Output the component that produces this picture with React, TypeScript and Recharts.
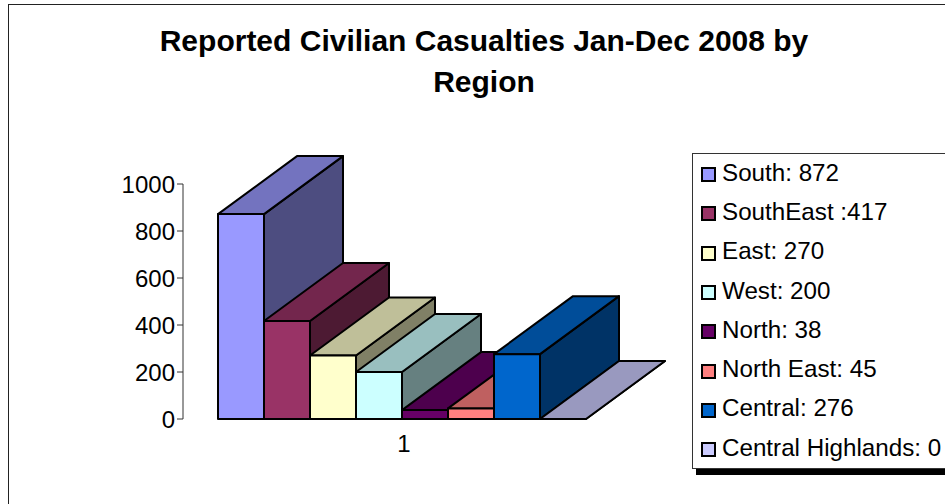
import { Bar, BarChart, Legend, XAxis, YAxis } from "recharts";

const regions = ["South", "SouthEast", "East", "West", "North", "North East", "Central", "Central Highlands"];
const casualties = [872, 417, 270, 200, 38, 45, 276, 0];
const legendLabels = [
  "South: 872",
  "SouthEast :417",
  "East: 270",
  "West: 200",
  "North: 38",
  "North East: 45",
  "Central: 276",
  "Central Highlands: 0"
];
const yTicks = [0, 200, 400, 600, 800, 1000];
const categories = ["1"];

const colors = ["#9999ff", "#993366", "#ffffcc", "#ccffff", "#660066", "#ff8080", "#0066cc", "#ccccff"];

const FONT = "'Liberation Sans', Arial, sans-serif";
const DEPTH_X = 79;
const DEPTH_Y = 58;

const row: Record<string, string | number> = { category: categories[0] };
regions.forEach((r, i) => {
  row[r] = casualties[i];
});
const data = [row];

// darken a hex colour, excel style shading for the 3d faces
function shade(hex: string, k: number) {
  const n = parseInt(hex.slice(1), 16);
  const r = Math.round(((n >> 16) & 255) * k);
  const g = Math.round(((n >> 8) & 255) * k);
  const b = Math.round((n & 255) * k);
  return `rgb(${r},${g},${b})`;
}

function Box3D(props: any) {
  const { x, y, width, height, fill } = props;
  const x2 = x + width;
  const y2 = y + height;
  const top = `${x},${y} ${x + DEPTH_X},${y - DEPTH_Y} ${x2 + DEPTH_X},${y - DEPTH_Y} ${x2},${y}`;
  const side = `${x2},${y} ${x2 + DEPTH_X},${y - DEPTH_Y} ${x2 + DEPTH_X},${y2 - DEPTH_Y} ${x2},${y2}`;
  return (
    <g stroke="#000" strokeWidth={2} strokeLinejoin="round">
      <polygon points={side} fill={shade(fill, 0.5)} />
      <polygon points={top} fill={shade(fill, 0.75)} />
      <rect x={x} y={y} width={width} height={height} fill={fill} />
    </g>
  );
}

function LegendBox() {
  return (
    <div
      style={{
        width: 255,
        height: 316,
        boxSizing: "border-box",
        background: "#fff",
        border: "1px solid #333",
        boxShadow: "4px 6px 0 #000",
        fontFamily: FONT,
        fontSize: 24.2,
        color: "#000",
        position: "relative"
      }}
    >
      {legendLabels.map((label, i) => (
        <div
          key={label}
          style={{ position: "absolute", left: 8, top: -1 + 39.3 * i, height: 39.3, display: "flex", alignItems: "center", whiteSpace: "nowrap" }}
        >
          <span
            style={{
              display: "inline-block",
              boxSizing: "border-box",
              width: 15,
              height: 15,
              marginRight: 6,
              marginTop: 4,
              background: colors[i],
              border: "2px solid #000"
            }}
          />
          {label}
        </div>
      ))}
    </div>
  );
}

export default function App() {
  return (
    <div style={{ position: "absolute", left: 0, top: 0, width: 945, height: 504, overflow: "hidden", background: "#fff" }}>
      <div
        style={{
          position: "absolute",
          left: 8,
          top: 4,
          width: 945,
          height: 510,
          border: "1.5px solid #222",
          boxSizing: "border-box"
        }}
      />
      <BarChart
        width={945}
        height={504}
        data={data}
        barCategoryGap={35}
        barGap={0}
        margin={{ top: 184, right: 68, bottom: 45, left: 123 }}
      >
        <text x={484} y={51} textAnchor="middle" fontFamily={FONT} fontWeight="bold" fontSize={30}>
          Reported Civilian Casualties Jan-Dec 2008 by
        </text>
        <text x={484} y={92} textAnchor="middle" fontFamily={FONT} fontWeight="bold" fontSize={30}>
          Region
        </text>
        <XAxis
          dataKey="category"
          axisLine={false}
          tickLine={false}
          height={40}
          tickMargin={10}
          dx={1}
          tick={{ fill: "#000", fontFamily: FONT, fontSize: 24, dx: 1.5 }}
        />
        <YAxis
          width={60}
          domain={[0, 1000]}
          ticks={yTicks}
          interval={0}
          tickSize={6}
          stroke="#333"
          tick={{ fill: "#000", fontFamily: FONT, fontSize: 24 }}
        />
        {regions.map((r, i) => (
          <Bar key={r} dataKey={r} fill={colors[i]} shape={Box3D} isAnimationActive={false} />
        ))}
        <Legend
          layout="vertical"
          align="right"
          verticalAlign="top"
          width={255}
          height={316}
          content={<LegendBox />}
          wrapperStyle={{ left: 692, top: 153, right: "auto", width: 255 }}
        />
      </BarChart>
    </div>
  );
}
